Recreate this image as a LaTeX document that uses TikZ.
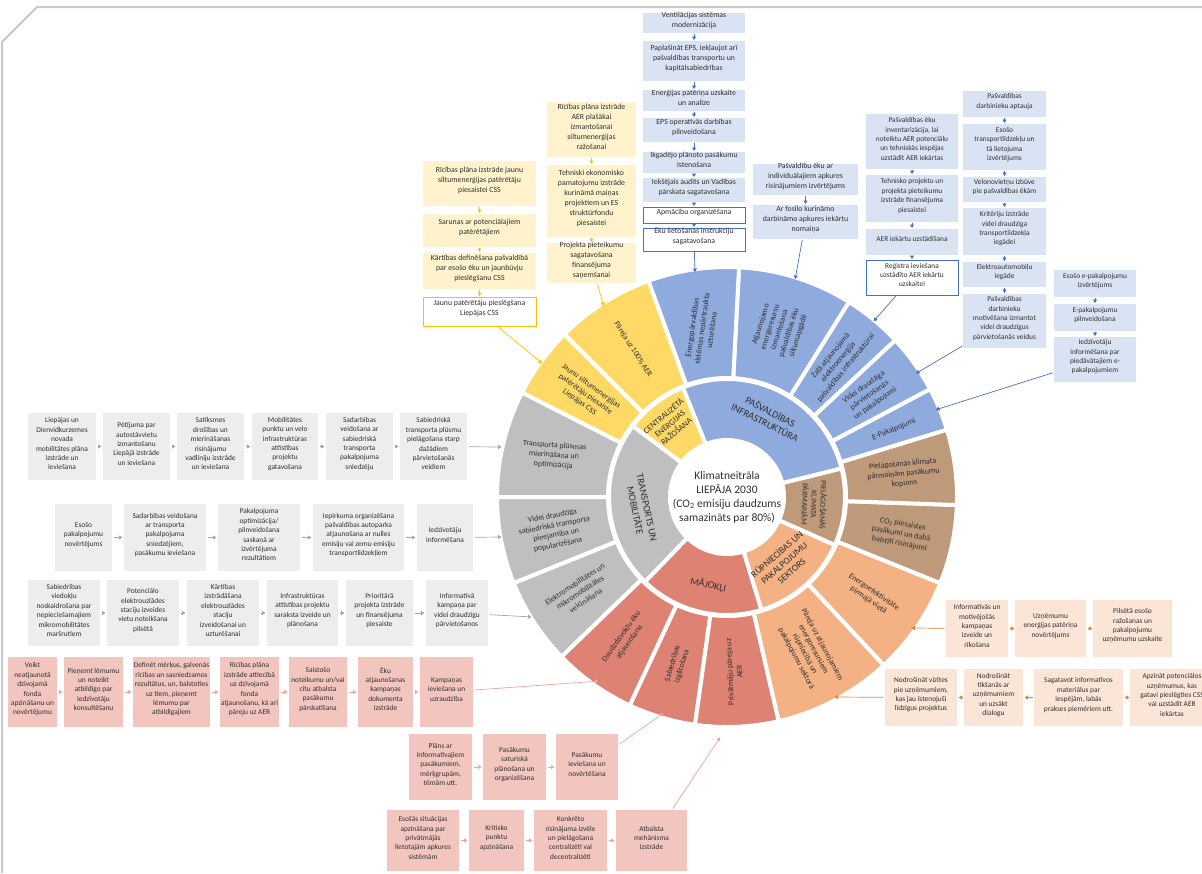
\documentclass[tikz,border=0pt]{standalone}
\usepackage{fontspec}
\setmainfont{Carlito}
\usetikzlibrary{calc,fit,arrows.meta}

\definecolor{secBlue}{HTML}{8FAADC}
\definecolor{boxBlue}{HTML}{DAE3F3}
\definecolor{lineBlue}{HTML}{4472C4}
\definecolor{secYellow}{HTML}{FFD966}
\definecolor{boxYellow}{HTML}{FFF2CC}
\definecolor{lineYellow}{HTML}{FFC000}
\definecolor{secGray}{HTML}{BFBFBF}
\definecolor{boxGray}{HTML}{EDEDED}
\definecolor{lineGray}{HTML}{A5A5A5}
\definecolor{secRed}{HTML}{DE8273}
\definecolor{boxRed}{HTML}{F2C6BF}
\definecolor{lineRed}{HTML}{EFA398}
\definecolor{secOrange}{HTML}{F4B183}
\definecolor{boxOrange}{HTML}{FBE5D6}
\definecolor{lineOrange}{HTML}{ED7D31}
\definecolor{secBrown}{HTML}{BF9A7A}
\definecolor{txt}{HTML}{303030}
\definecolor{frame}{HTML}{C8C8C8}

% box: style, name, corner, corner, text
\newcommand\bx[5]{\node[#1, fit={(#3) (#4)}] (#2) {#5};}
% ring sector: style, start angle, end angle, inner radius, outer radius
\newcommand\ringsector[5]{\path[#1] ($(C)+(#2:#4pt)$) arc[start angle=#2,end angle=#3,radius=#4pt] -- ($(C)+(#3:#5pt)$) arc[start angle=#3,end angle=#2,radius=#5pt] -- cycle;}
% sector label: style, name, angle, radius, rotation, text
\newcommand\seclabel[6]{\node[#1, rotate=#5] (#2) at ($(C)+(#3:#4pt)$) {#6};}

\begin{document}
\begin{tikzpicture}[x=1pt,y=-1pt,
  box/.style={inner sep=0pt, outer sep=0pt, align=center, text=txt, font=\fontsize{7.4}{9.4}\selectfont},
  bigbox/.style={font=\fontsize{7.8}{10}\selectfont},
  bbox/.style={box, fill=boxBlue},
  bwbox/.style={box, fill=white, draw=lineBlue, line width=0.8pt},
  ybox/.style={box, fill=boxYellow},
  ywbox/.style={box, fill=white, draw=lineYellow, line width=0.8pt},
  gbox/.style={box, fill=boxGray},
  rbox/.style={box, fill=boxRed},
  obox/.style={box, fill=boxOrange},
  sector/.style={draw=white, line width=4pt, line join=round},
  outlab/.style={align=center, text=txt, inner sep=0pt, font=\fontsize{8}{9.8}\selectfont},
  inlab/.style={align=center, text=txt, inner sep=0pt, font=\fontsize{10}{12}\selectfont},
  tip/.style={-{Triangle[length=3.5pt,width=4pt]}},
  barrow/.style={draw=lineBlue, line width=0.7pt, tip, shorten <=1pt, shorten >=1pt},
  yarrow/.style={draw=lineYellow, line width=0.7pt, tip, shorten <=1pt, shorten >=1pt},
  garrow/.style={draw=lineGray, line width=0.7pt, tip, shorten <=1.5pt, shorten >=1.5pt},
  rarrow/.style={draw=lineRed, line width=0.7pt, tip, shorten <=1.5pt, shorten >=1.5pt},
  oarrow/.style={draw=lineOrange, line width=0.7pt, tip, shorten <=1.5pt, shorten >=1.5pt},
]
\useasboundingbox (0,0) rectangle (1202,873);

% page frame
\draw[frame, line width=2pt, line join=round] (2,873) -- (2,42) -- (37,7) -- (1202,7);

% ---------- wheel ----------
\coordinate (C) at (727,497);

% inner ring
\ringsector{sector, fill=secBlue}{14}{112}{57}{118}
\ringsector{sector, fill=secYellow}{112}{143}{57}{118}
\ringsector{sector, fill=secGray}{143}{226}{57}{118}
\ringsector{sector, fill=secRed}{226}{287}{57}{118}
\ringsector{sector, fill=secOrange}{287}{336}{57}{118}
\ringsector{sector, fill=secBrown}{336}{374}{57}{118}

% outer ring
\ringsector{sector, fill=secBlue}{17}{28}{119}{230}
\ringsector{sector, fill=secBlue}{28}{43}{119}{230}
\ringsector{sector, fill=secBlue}{43}{58}{119}{230}
\ringsector{sector, fill=secBlue}{58}{87}{119}{230}
\ringsector{sector, fill=secBlue}{87}{110}{119}{230}
\ringsector{sector, fill=secYellow}{110}{135}{119}{230}
\ringsector{sector, fill=secYellow}{135}{153}{119}{230}
\ringsector{sector, fill=secGray}{153}{180}{119}{230}
\ringsector{sector, fill=secGray}{180}{202}{119}{230}
\ringsector{sector, fill=secGray}{202}{224}{119}{230}
\ringsector{sector, fill=secRed}{224}{245}{119}{230}
\ringsector{sector, fill=secRed}{245}{262}{119}{230}
\ringsector{sector, fill=secRed}{262}{283}{119}{230}
\ringsector{sector, fill=secOrange}{283}{313}{119}{230}
\ringsector{sector, fill=secOrange}{313}{338}{119}{230}
\ringsector{sector, fill=secBrown}{338}{358}{119}{230}
\ringsector{sector, fill=secBrown}{358}{377}{119}{230}

% centre
\node[align=center, text=txt, font=\fontsize{11.5}{14}\selectfont] (ctr) at (C)
  {Klimatneitrāla\\LIEPĀJA 2030\\(CO\textsubscript{2} emisiju daudzums\\samazināts par 80\%)};

% inner labels
\seclabel{inlab}{lPasv}{63}{90}{-27}{PAŠVALDĪBAS\\INFRASTRUKTŪRA}
\seclabel{inlab, font=\fontsize{8.4}{10}\selectfont}{lCentr}{128}{93}{40}{CENTRALIZĒTĀ\\ENERĢIJAS\\RAŽOŠANA}
\seclabel{inlab}{lTransp}{188}{87}{-78}{TRANSPORTS UN\\MOBILITĀTE}
\seclabel{inlab}{lMaj}{258}{90}{-12}{MĀJOKĻI}
\seclabel{inlab, font=\fontsize{9.4}{11.2}\selectfont}{lRup}{311}{87}{41}{RŪPNIECĪBAS UN\\PAKALPOJUMU\\SEKTORS}
\seclabel{inlab, font=\fontsize{7.8}{9.2}\selectfont}{lPiel}{355}{87}{-92}{PIELĀGOŠANĀS\\KLIMATA\\PĀRMAIŅĀM}

% outer labels
\seclabel{outlab}{oEpak}{22}{180}{22}{E-Pakalpojumi}
\seclabel{outlab}{oVidP}{35.5}{175}{35.5}{Videi draudzīga\\pārvietošanās\\un pakalpojumi}
\seclabel{outlab}{oZala}{50.5}{175}{50.5}{Zaļā atjaunojamā\\elektroenerģija\\pašvaldības infrastruktūrai}
\seclabel{outlab}{oAtj}{72.5}{175}{72.5}{Atjaunojamo\\energoresursu\\izmantošana\\pašvaldības ēku\\siltumapgādē}
\seclabel{outlab}{oEnergo}{98.5}{170}{82}{Energopārvaldības\\sistēmas nepārtraukta\\uzturēšana}
\seclabel{outlab}{oP100}{122.5}{175}{-57.5}{Pāreja uz 100\% AER}
\seclabel{outlab}{oJaunu}{144}{175}{-36}{Jaunu siltumenerģijas\\patērētāju piesaiste\\Liepājas CSS}
\seclabel{outlab}{oTransp}{166.5}{178}{-4}{Transporta plūsmas\\mierināšana un\\optimizācija}
\seclabel{outlab}{oVidS}{191}{175}{11}{Videi draudzīga\\sabiedriskā transporta\\pieejamība un\\popularizēšana}
\seclabel{outlab}{oElek}{213}{175}{33}{Elektromobilitātes un\\mikromobilitātes\\veicināšana}
\seclabel{outlab}{oDaud}{234.5}{175}{54.5}{Daudzdzīvokļu ēku\\atjaunošana}
\seclabel{outlab}{oSab}{253.5}{175}{73.5}{Sabiedrības\\izglītošana}
\seclabel{outlab}{oPriv}{272.5}{175}{92.5}{Privātmāju pāreja uz\\AER}
\seclabel{outlab}{oPar}{298}{175}{-62}{Pāreja uz atjaunojamiem\\energoresursiem\\rūpniecībā un\\pakalpojumu sektorā}
\seclabel{outlab}{oEef}{325.5}{175}{-34.5}{Energoefektivitāte\\pirmajā vietā}
\seclabel{outlab}{oCO}{348}{178}{-10}{CO\textsubscript{2} piesaistes\\pasākumi un dabā\\balstīti risinājumi}
\seclabel{outlab}{oPielK}{7.5}{178}{5}{Pielāgošanās klimata\\pārmaiņām pasākumu\\kopums}

% arrow targets on the wheel
\coordinate (tEnergo) at (695,273);
\coordinate (tAtj) at (795,280);
\coordinate (tZala) at (873,322);
\coordinate (tVidP) at (915,374);
\coordinate (tEpak) at (935,410);
\coordinate (tP100) at (604,307);
\coordinate (tJaunu) at (543,364);
\coordinate (tTransp) at (503,447);
\coordinate (tVidS) at (503,537);
\coordinate (tElek) at (533,617);
\coordinate (tDaud) at (600,681);
\coordinate (tSab) at (665,712);
\coordinate (tPriv) at (721,736);
\coordinate (tEef) at (910,628);
\coordinate (tPar) at (833,697);

% ---------- municipal infrastructure ----------
\bx{bbox,bigbox}{b1}{643,13}{745,33}{Ventilācijas sistēmas\\modernizācija}
\bx{bbox,bigbox}{b2}{643,41}{745,81}{Paplašināt EPS, iekļaujot arī\\pašvaldības transportu un\\kapitālsabiedrības}
\bx{bbox,bigbox}{b3}{643,90}{745,111}{Enerģijas patēriņa uzskaite\\un analīze}
\bx{bbox,bigbox}{b4}{643,118}{745,142}{EPS operatīvās darbības\\pilnveidošana}
\bx{bbox,bigbox}{b5}{643,152}{745,173}{Ikgadējo plānoto pasākumu\\īstenošana}
\bx{bbox,bigbox}{b6}{643,178}{745,202}{Iekšējais audits un Vadības\\pārskata sagatavošana}
\bx{bwbox,bigbox}{b7}{643,207}{745,223}{Apmācību organizēšana}
\bx{bwbox,bigbox}{b8}{643,228}{745,251}{Ēku lietošanas instrukciju\\sagatavošana}
\foreach \a/\b in {b1/b2,b2/b3,b3/b4,b4/b5,b5/b6,b6/b7,b7/b8} \draw[barrow] (\a) -- (\b);
\draw[barrow] (b8) -- (tEnergo);

\bx{bbox,bigbox}{c1}{753,164}{858,195}{Pašvaldību ēku ar\\individuālajiem apkures\\risinājumiem izvērtējums}
\bx{bbox,bigbox}{c2}{753,205}{858,239}{Ar fosilo kurināmo\\darbināmo apkures iekārtu\\nomaiņa}
\draw[barrow] (c1) -- (c2);
\draw[barrow] (c2) -- (tAtj);

\bx{bbox}{d1}{866,114}{958,169}{Pašvaldības ēku\\inventarizācija, lai\\noteiktu AER potenciālu\\un tehniskās iespējas\\uzstādīt AER iekārtas}
\bx{bbox}{d2}{866,175}{958,222}{Tehnisko projektu un\\projekta pieteikumu\\izstrāde finansējuma\\piesaistei}
\bx{bbox}{d3}{866,229}{958,255}{AER iekārtu uzstādīšana}
\bx{bwbox}{d4}{866,260}{958,295}{Reģistra ieviešana\\uzstādīto AER iekārtu\\uzskaitei}
\foreach \a/\b in {d1/d2,d2/d3,d3/d4} \draw[barrow] (\a) -- (\b);
\draw[barrow] (d4) -- (tZala);

\bx{bbox}{e1}{963,91}{1046,117}{Pašvaldības\\darbinieku aptauja}
\bx{bbox}{e2}{963,124}{1046,170}{Esošo\\transportlīdzekļu un\\tā lietojuma\\izvērtējums}
\bx{bbox}{e3}{963,177}{1046,202}{Velonovietņu izbūve\\pie pašvaldības ēkām}
\bx{bbox}{e4}{963,208}{1046,255}{Kritēriju izstrāde\\videi draudzīga\\transportlīdzekļa\\iegādei}
\bx{bbox}{e5}{963,262}{1046,287}{Elektroautomobiļu\\iegāde}
\bx{bbox}{e6}{963,294}{1046,348}{Pašvaldības\\darbinieku\\motivēšana izmantot\\videi draudzīgus\\pārvietošanās veidus}
\foreach \a/\b in {e1/e2,e2/e3,e3/e4,e4/e5,e5/e6} \draw[barrow] (\a) -- (\b);
\draw[barrow] (e6) -- (tVidP);

\bx{bbox}{f1}{1054,270}{1136,297}{Esošo e-pakalpojumu\\izvērtējums}
\bx{bbox}{f2}{1054,304}{1136,331}{E-pakalpojumu\\pilnveidošana}
\bx{bbox}{f3}{1054,337}{1136,382}{Iedzīvotāju\\informēšana par\\piedāvātajiem e-\\pakalpojumiem}
\foreach \a/\b in {f1/f2,f2/f3} \draw[barrow] (\a) -- (\b);
\draw[barrow] (f3) -- (tEpak);

% ---------- centralised energy production ----------
\bx{ybox,bigbox}{y1}{423,161}{536,206}{Rīcības plāna izstrāde jaunu\\siltumenerģijas patērētāju\\piesaistei CSS}
\bx{ybox,bigbox}{y2}{423,214}{536,247}{Sarunas ar potenciālajiem\\patērētājiem}
\bx{ybox,bigbox}{y3}{423,253}{536,289}{Kārtības definēšana pašvaldībā\\par esošo ēku un jaunbūvju\\pieslēgšanu CSS}
\bx{ywbox,bigbox}{y4}{423,297}{536,326}{Jaunu patērētāju pieslēgšana\\Liepājas CSS}
\foreach \a/\b in {y1/y2,y2/y3,y3/y4} \draw[yarrow] (\a) -- (\b);
\draw[yarrow] (y4) -- (tJaunu);

\bx{ybox,bigbox}{z1}{547,102}{636,157}{Rīcības plāna izstrāde\\AER plašākai\\izmantošanai\\siltumenerģijas\\ražošanai}
\bx{ybox,bigbox}{z2}{547,165}{636,237}{Tehniski ekonomisko\\pamatojumu izstrāde\\kurināmā maiņas\\projektiem un ES\\struktūrfondu\\piesaistei}
\bx{ybox,bigbox}{z3}{547,243}{636,283}{Projekta pieteikumu\\sagatavošana\\finansējuma\\saņemšanai}
\foreach \a/\b in {z1/z2,z2/z3} \draw[yarrow] (\a) -- (\b);
\draw[yarrow] (z3) -- (tP100);

% ---------- transport and mobility ----------
\bx{gbox}{g1}{28,413}{96,480}{Liepājas un\\Dienvidkurzemes\\novada\\mobilitātes plāna\\izstrāde un\\ieviešana}
\bx{gbox}{g2}{103,413}{170,480}{Pētījuma par\\autostāvvietu\\izmantošanu\\Liepājā izstrāde\\un ieviešana}
\bx{gbox}{g3}{177,413}{244,480}{Satiksmes\\drošības un\\mierināšanas\\risinājumu\\vadlīniju izstrāde\\un ieviešana}
\bx{gbox}{g4}{252,413}{318,480}{Mobilitātes\\punktu un velo\\infrastruktūras\\attīstības\\projektu\\gatavošana}
\bx{gbox}{g5}{326,413}{393,480}{Sadarbības\\veidošana ar\\sabiedriskā\\transporta\\pakalpojuma\\sniedzēju}
\bx{gbox}{g6}{400,413}{467,480}{Sabiedriskā\\transporta plūsmu\\pielāgošana starp\\dažādiem\\pārvietošanās\\veidiem}
\foreach \a/\b in {g1/g2,g2/g3,g3/g4,g4/g5,g5/g6} \draw[garrow] (\a) -- (\b);
\draw[garrow] (g6) -- (tTransp);

\bx{gbox}{h1}{55,504}{112,571}{Esošo\\pakalpojumu\\novērtējums}
\bx{gbox}{h2}{124,504}{206,571}{Sadarbības veidošana\\ar transporta\\pakalpojuma\\sniedzējiem,\\pasākumu ieviešana}
\bx{gbox}{h3}{218,504}{300,571}{Pakalpojuma\\optimizācija/\\pilnveidošana\\saskaņā ar\\izvērtējuma\\rezultātiem}
\bx{gbox}{h4}{313,504}{404,571}{Iepirkuma organizēšana\\pašvaldības autoparka\\atjaunošana ar nulles\\emisiju vai zemu emisiju\\transportlīdzekļiem}
\bx{gbox}{h5}{417,504}{473,571}{Iedzīvotāju\\informēšana}
\foreach \a/\b in {h1/h2,h2/h3,h3/h4,h4/h5} \draw[garrow] (\a) -- (\b);
\draw[garrow] (h5) -- (tVidS);

\bx{gbox}{i1}{28,580}{100,646}{Sabiedrības\\viedokļu\\noskaidrošana par\\nepieciešamajiem\\mikromobilitātes\\maršrutiem}
\bx{gbox}{i2}{107,580}{179,646}{Potenciālo\\elektrouzlādes\\staciju izveides\\vietu noteikšana\\pilsētā}
\bx{gbox}{i3}{187,580}{259,646}{Kārtības\\izstrādāšana\\elektrouzlādes\\staciju\\izveidošanai un\\uzturēšanai}
\bx{gbox}{i4}{267,580}{338,646}{Infrastruktūras\\attīstības projektu\\saraksta izveide un\\plānošana}
\bx{gbox}{i5}{346,580}{413,646}{Prioritārā\\projekta izstrāde\\un finansējuma\\piesaiste}
\bx{gbox}{i6}{426,580}{488,646}{Informatīvā\\kampaņa par\\videi draudzīgu\\pārvietošanos}
\foreach \a/\b in {i1/i2,i2/i3,i3/i4,i4/i5,i5/i6} \draw[garrow] (\a) -- (\b);
\draw[garrow] (i6) -- (tElek);

% ---------- housing ----------
\bx{rbox}{r1}{8,657}{57,727}{Veikt\\neatjaunotā\\dzīvojamā\\fonda\\apzināšanu un\\novērtējumu}
\bx{rbox}{r2}{64,657}{123,727}{Pieņemt lēmumu\\un noteikt\\atbildīgo par\\iedzīvotāju\\konsultēšanu}
\bx{rbox}{r3}{133,657}{210,727}{Definēt mērķus, galvenās\\rīcības un sasniedzamos\\rezultātus, un, balstoties\\uz tiem, pieņemt\\lēmumu par\\atbildīgajiem}
\bx{rbox}{r4}{220,657}{279,727}{Rīcības plāna\\izstrāde attiecībā\\uz dzīvojamā\\fonda\\atjaunošanu, kā arī\\pāreju uz AER}
\bx{rbox}{r5}{289,657}{347,727}{Saistošo\\noteikumu un/vai\\citu atbalsta\\pasākumu\\pārskatīšana}
\bx{rbox}{r6}{358,657}{413,727}{Ēku\\atjaunošanas\\kampaņas\\dokumenta\\izstrāde}
\bx{rbox}{r7}{420,657}{473,727}{Kampaņas\\ieviešana un\\uzraudzība}
\foreach \a/\b in {r1/r2,r2/r3,r3/r4,r4/r5,r5/r6,r6/r7} \draw[rarrow] (\a) -- (\b);
\draw[rarrow] (r7) -- (tDaud);

\bx{rbox}{p1}{409,734}{472,800}{Plāns ar\\informatīvajiem\\pasākumiem,\\mērķgrupām,\\tēmām utt.}
\bx{rbox}{p2}{483,734}{546,800}{Pasākumu\\saturiskā\\plānošana un\\organizēšana}
\bx{rbox}{p3}{556,734}{618,800}{Pasākumu\\ieviešana un\\novērtēšana}
\foreach \a/\b in {p1/p2,p2/p3} \draw[rarrow] (\a) -- (\b);
\draw[rarrow] (p3) -- (tSab);

\bx{rbox}{q1}{387,810}{459,871}{Esošās situācijas\\apzināšana par\\privātmājās\\lietotajām apkures\\sistēmām}
\bx{rbox}{q2}{469,810}{524,871}{Kritisko\\punktu\\apzināšana}
\bx{rbox}{q3}{534,810}{607,871}{Konkrēto\\risinājuma izvēle\\un pielāgošana\\centralizēti vai\\decentralizēti}
\bx{rbox}{q4}{616,810}{687,871}{Atbalsta\\mehānisma\\izstrāde}
\foreach \a/\b in {q1/q2,q2/q3,q3/q4} \draw[rarrow] (\a) -- (\b);
\draw[rarrow] (q4) -- (tPriv);

% ---------- industry and services ----------
\bx{obox}{o1}{946,600}{1008,657}{Informatīvās un\\motivējošās\\kampaņas\\izveide un\\rīkošana}
\bx{obox}{o2}{1015,600}{1086,657}{Uzņēmumu\\enerģijas patēriņa\\novērtējums}
\bx{obox}{o3}{1093,600}{1172,657}{Pilsētā esošo\\ražošanas un\\pakalpojumu\\uzņēmumu uzskaite}
\foreach \a/\b in {o3/o2,o2/o1} \draw[oarrow] (\a) -- (\b);
\draw[oarrow] (o1) -- (tEef);

\bx{obox}{o4}{885,669}{957,726}{Nodrošināt vizītes\\pie uzņēmumiem,\\kas jau īstenojuši\\līdzīgus projektus}
\bx{obox}{o5}{964,669}{1023,726}{Nodrošināt\\tikšanās ar\\uzņēmumiem\\un uzsākt\\dialogu}
\bx{obox}{o6}{1034,669}{1123,726}{Sagatavot informatīvos\\materiālus par\\iespējām, labās\\prakses piemēriem utt.}
\bx{obox}{o7}{1130,669}{1214,726}{Apzināt potenciālos\\uzņēmumus, kas\\gatavi pieslēgties CSS\\vai uzstādīt AER\\iekārtas}
\foreach \a/\b in {o7/o6,o6/o5,o5/o4} \draw[oarrow] (\a) -- (\b);
\draw[oarrow] (o4) -- (tPar);

\end{tikzpicture}
\end{document}
